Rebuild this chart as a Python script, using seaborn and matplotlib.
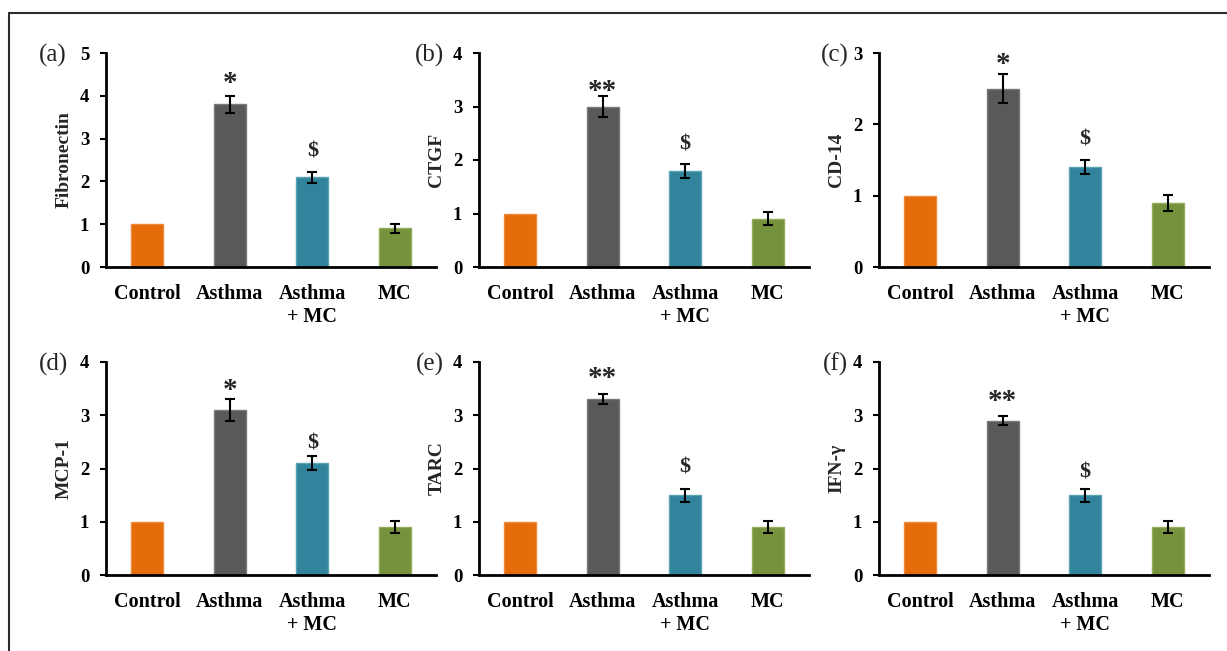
import numpy as np
import pandas as pd
import matplotlib
matplotlib.use("Agg")
import matplotlib.pyplot as plt
from matplotlib.lines import Line2D
import seaborn as sns

# ---------------- data ----------------
groups = ["Control", "Asthma", "Asthma\n+ MC", "MC"]
markers = ["Fibronectin", "CTGF", "CD-14", "MCP-1", "TARC", "IFN-γ"]
panel_letters = ["(a)", "(b)", "(c)", "(d)", "(e)", "(f)"]

fibronectin_mean = [1.0, 3.8, 2.1, 0.9]
fibronectin_err = [0.0, 0.2, 0.13, 0.1]
ctgf_mean = [1.0, 3.0, 1.8, 0.9]
ctgf_err = [0.0, 0.2, 0.13, 0.12]
cd14_mean = [1.0, 2.5, 1.4, 0.9]
cd14_err = [0.0, 0.2, 0.1, 0.11]
mcp1_mean = [1.0, 3.1, 2.1, 0.9]
mcp1_err = [0.0, 0.2, 0.13, 0.11]
tarc_mean = [1.0, 3.3, 1.5, 0.9]
tarc_err = [0.0, 0.09, 0.12, 0.11]
ifng_mean = [1.0, 2.9, 1.5, 0.9]
ifng_err = [0.0, 0.09, 0.12, 0.11]

y_max = [5, 4, 3, 4, 4, 4]
asthma_sig = ["*", "**", "*", "*", "**", "**"]
treat_sig = ["$", "$", "$", "$", "$", "$"]

means = [fibronectin_mean, ctgf_mean, cd14_mean, mcp1_mean, tarc_mean, ifng_mean]
errs = [fibronectin_err, ctgf_err, cd14_err, mcp1_err, tarc_err, ifng_err]

# ---------------- style ----------------
bar_colors = ["#E46C0A", "#595959", "#31849B", "#76923C"]
edge_colors = ["#F0893A", "#7A7A7A", "#5AA3B6", "#93AD5E"]

# label offsets (pixels above error bar top)
star_off_px = [12, 4, 10, 9, 16, 14]
dollar_off_px = [20, 19, 20, 13, 21, 16]

sns.set_theme(style="white")
plt.rcParams["font.family"] = ["Liberation Serif", "DejaVu Serif"]

W, H = 1227, 651
fig = plt.figure(figsize=(W / 100, H / 100), dpi=100)
fig.patch.set_facecolor("white")

col_left = [106, 479, 879]
letter_off = [53, 49, 44]
ax_w = 330
rows = [(53, 267), (362, 575)]

for i in range(6):
    r, c = divmod(i, 3)
    top, bot = rows[r]
    ax = fig.add_axes([col_left[c] / W, 1 - bot / H, ax_w / W, (bot - top) / H])
    df = pd.DataFrame({"group": groups, "value": means[i]})
    sns.barplot(data=df, x="group", y="value", hue="group", palette=bar_colors,
                width=0.39, errorbar=None, legend=False, ax=ax, linewidth=1.0,
                saturation=1)
    for p, ec in zip(ax.patches, edge_colors):
        p.set_edgecolor(ec)

    idx = [j for j in range(4) if errs[i][j] > 0]
    ax.errorbar(idx, [means[i][j] for j in idx], yerr=[errs[i][j] for j in idx],
                fmt="none", ecolor="black", elinewidth=1.5, capsize=3.6,
                capthick=1.5, zorder=5)

    # significance labels
    ax.annotate(asthma_sig[i], xy=(1, means[i][1] + errs[i][1]),
                xytext=(0, star_off_px[i] * 0.72), textcoords="offset points",
                ha="center", va="center", fontsize=21, fontweight="bold")
    ax.annotate("\\" + treat_sig[i], xy=(2, means[i][2] + errs[i][2]),
                xytext=(0, dollar_off_px[i] * 0.72), textcoords="offset points",
                ha="center", va="center", fontsize=16, fontweight="bold")

    ax.set_xlim(-0.5, 3.5)
    ax.set_ylim(0, y_max[i])
    ax.set_yticks(range(0, y_max[i] + 1))
    ax.set_xticks(range(4))
    ax.set_xticklabels(groups, fontsize=14.5, fontweight="bold", linespacing=1.2)
    ax.set_yticklabels([str(v) for v in range(0, y_max[i] + 1)], fontsize=13.5,
                       fontweight="bold")
    ax.set_xlabel("")
    ax.set_ylabel(markers[i], fontsize=14, fontweight="bold")
    ax.yaxis.set_label_coords(-42 / ax_w, 0.5)
    ax.yaxis.label.set_va("center")

    sns.despine(ax=ax)
    for s in ["left", "bottom"]:
        ax.spines[s].set_linewidth(2)
        ax.spines[s].set_color("black")
    ax.tick_params(axis="y", left=True, direction="out", length=4, width=1.5,
                   pad=8, colors="black")
    ax.tick_params(axis="x", bottom=False, length=0, pad=12, colors="black")
    ax.set_facecolor("white")

    fig.text((col_left[c] - letter_off[c]) / W, 1 - (top + 2) / H,
             panel_letters[i], ha="center", va="center", fontsize=18,
             fontweight="normal")

# frame lines (top and left)
fig.add_artist(Line2D([9 / W, 1], [1 - 12.5 / H] * 2, color="#2b2b2b", lw=1.5))
fig.add_artist(Line2D([9 / W] * 2, [0, 1 - 12.5 / H], color="#2b2b2b", lw=1.5))

fig.savefig("out.png", dpi=100, facecolor="white")
